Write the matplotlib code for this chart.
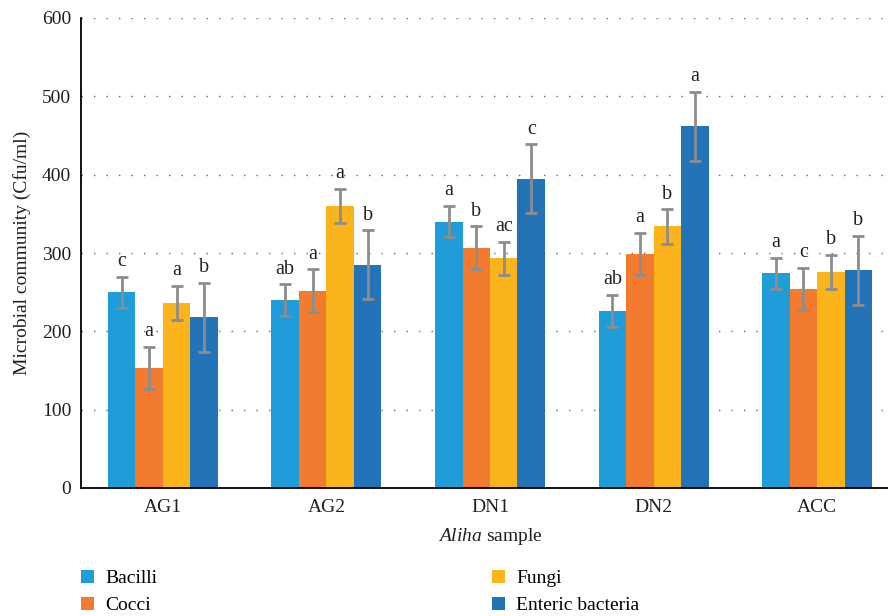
import numpy as np
import matplotlib
matplotlib.use("Agg")
import matplotlib.pyplot as plt
from matplotlib.patches import Patch

plt.rcParams['font.family'] = ['Liberation Serif', 'DejaVu Serif']
plt.rcParams['mathtext.fontset'] = 'custom'
plt.rcParams['mathtext.it'] = 'Liberation Serif:italic'
plt.rcParams['mathtext.rm'] = 'Liberation Serif'

samples = ["AG1", "AG2", "DN1", "DN2", "ACC"]
series = ["Bacilli", "Cocci", "Fungi", "Enteric bacteria"]
colors = ["#1e9dd8", "#f37b30", "#fbb41c", "#2373b8"]

bacilli = [250, 240, 340, 226, 274]
cocci = [153, 252, 307, 299, 254]
fungi = [236, 360, 293, 334, 276]
enteric = [218, 285, 395, 462, 278]

bacilli_err = [20, 20, 20, 21, 20]
cocci_err = [27, 27, 27, 27, 27]
fungi_err = [22, 22, 21, 22, 22]
enteric_err = [44, 44, 44, 44, 44]

bacilli_lbl = ["c", "ab", "a", "ab", "a"]
cocci_lbl = ["a", "a", "b", "a", "c"]
fungi_lbl = ["a", "a", "ac", "b", "b"]
enteric_lbl = ["b", "b", "c", "a", "b"]

values = [bacilli, cocci, fungi, enteric]
errors = [bacilli_err, cocci_err, fungi_err, enteric_err]
letters = [bacilli_lbl, cocci_lbl, fungi_lbl, enteric_lbl]

fig = plt.figure(figsize=(8.88, 6.16), dpi=100)
ax = fig.add_axes([81/888, 128/616, 818/888, 470/616])

x = np.arange(len(samples))
w = 0.168
for i in range(4):
    pos = x + (i - 1.5) * w
    ax.bar(pos, values[i], width=w, color=colors[i], zorder=2)
    ax.errorbar(pos, values[i], yerr=errors[i], fmt='none', ecolor='#8d8d8d',
                elinewidth=2, capsize=4, capthick=2, zorder=3)
    for p, v, e, t in zip(pos, values[i], errors[i], letters[i]):
        ax.annotate(t, (p, v + e), xytext=(0, 4), textcoords='offset points',
                    ha='center', va='bottom', fontsize=14.5, color='#231f20')

ax.set_xlim(-0.5, 4.5)
ax.set_ylim(0, 600)
ax.set_yticks(range(0, 601, 100))
ax.set_xticks(x)
ax.set_xticklabels(samples)
ax.tick_params(length=0, labelsize=14, colors='#231f20')
ax.tick_params(axis='y', pad=7)
ax.tick_params(axis='x', pad=8)
for yv in range(100, 601, 100):
    ax.axhline(yv, color='#666666', lw=1.0, dashes=(1, 8), zorder=1)
ax.spines['top'].set_visible(False)
ax.spines['right'].set_visible(False)
ax.spines['left'].set_linewidth(1.3)
ax.spines['bottom'].set_linewidth(1.3)
ax.set_ylabel("Microbial community (Cfu/ml)", fontsize=14, color='#231f20', labelpad=8)
ax.set_xlabel(r"$\it{Aliha}$ sample", fontsize=14, color='#231f20', labelpad=7)

handles = [Patch(facecolor=c) for c in colors]
leg_kw = dict(frameon=False, fontsize=14, handlelength=0.65, handleheight=0.65,
              handletextpad=0.6, labelspacing=0.5, borderaxespad=0, borderpad=0)
fig.legend(handles[:2], series[:2], loc='upper left',
           bbox_to_anchor=(81/888, 1 - 570/616), **leg_kw)
fig.legend(handles[2:], series[2:], loc='upper left',
           bbox_to_anchor=(492/888, 1 - 570/616), **leg_kw)

fig.savefig("out.png", dpi=100)
